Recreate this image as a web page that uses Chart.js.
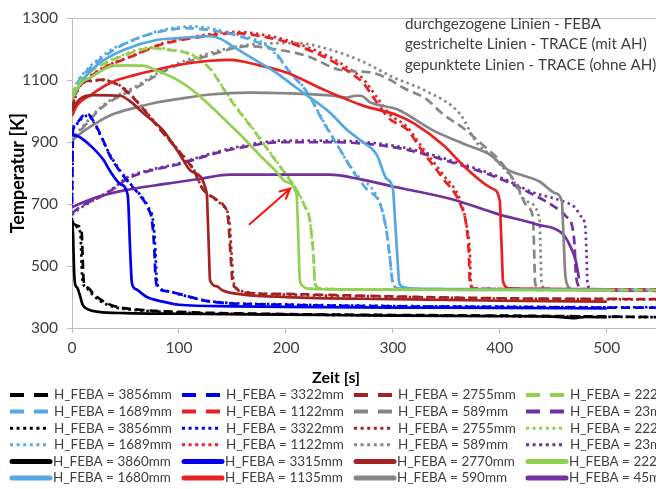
<!DOCTYPE html>
<html>
<head>
<meta charset="utf-8">
<script src="https://cdn.jsdelivr.net/npm/chart.js@4/dist/chart.umd.min.js"></script>
<style>
    html, body { margin: 0; padding: 0; background: #fff; overflow: hidden; }
</style>
</head>
<body>
<canvas id="chart" width="656" height="489"></canvas>
<script>
/**
 * Rod temperatures over time: FEBA measurement vs. TRACE (with / without AH)
 */

const traceHeights = [3856, 3322, 2755, 2222, 1689, 1122, 589, 23];
const febaHeights = [3860, 3315, 2770, 2225, 1680, 1135, 590, 45];
const lineColors = ['#000000', '#0000f0', '#a52222', '#92d050', '#56a8e2', '#e82222', '#868686', '#7030a0'];

const xTicks = [0, 100, 200, 300, 400, 500];
const yTicks = [300, 500, 700, 900, 1100, 1300];

const notes = [
    'durchgezogene Linien - FEBA',
    'gestrichelte Linien - TRACE (mit AH)',
    'gepunktete Linien - TRACE (ohne AH)'
];

// [time s, temperature K]
const mitAh3856 = [[0,640],[5,630],[9,610],[10,520],[11,450],[15,430],[20,410],[30,385],[40,370],[60,360],[100,352],[200,345],[300,342],[400,340],[500,337],[550,335]];
const mitAh3322 = [[0,700],[1,940],[5,965],[10,985],[15,990],[20,968],[28,915],[35,859],[45,805],[54,766],[63,730],[71,687],[75,640],[77,550],[78,470],[80,432],[90,418],[100,410],[130,385],[200,375],[300,370],[400,368],[500,366],[550,366]];
const mitAh2755 = [[0,1010],[5,1070],[10,1093],[20,1100],[29,1102],[40,1090],[47,1076],[64,1018],[82,942],[100,870],[113,814],[122,750],[135,715],[141,699],[146,650],[148,550],[150,450],[153,430],[157,418],[170,412],[200,410],[300,402],[400,396],[500,394],[550,393]];
const mitAh2222 = [[0,1050],[1,1060],[5,1085],[14,1118],[25,1145],[36,1162],[50,1182],[61,1195],[75,1204],[90,1198],[107,1188],[122,1160],[132,1124],[141,1075],[150,1028],[169,942],[191,837],[200,795],[210,745],[218,690],[222,655],[224,600],[226,520],[227,445],[230,430],[240,426],[300,424],[400,423],[500,422],[550,422]];
const mitAh1689 = [[0,1045],[5,1090],[10,1115],[26,1166],[40,1200],[57,1230],[80,1255],[107,1268],[129,1262],[145,1252],[157,1242],[182,1210],[188,1198],[204,1124],[220,1060],[235,965],[250,880],[263,805],[275,750],[288,700],[294,613],[297,530],[300,444],[305,428],[320,425],[400,424],[500,423],[550,423]];
const mitAh1122 = [[0,1000],[1,1038],[5,1070],[14,1102],[30,1140],[57,1178],[82,1214],[113,1236],[154,1252],[180,1240],[204,1220],[241,1166],[260,1124],[272,1092],[285,1028],[297,975],[313,942],[328,869],[347,782],[363,700],[369,623],[371,540],[372,440],[376,428],[400,426],[500,425],[550,425]];
const mitAh589 = [[0,905],[5,925],[15,965],[26,1006],[40,1040],[57,1070],[89,1134],[126,1178],[166,1210],[190,1200],[220,1178],[250,1134],[281,1124],[297,1102],[310,1075],[331,1040],[347,990],[366,945],[384,891],[400,840],[416,760],[426,690],[431,655],[432,560],[433,445],[437,428],[460,425],[500,424],[550,423]];
const mitAh23 = [[0,670],[5,685],[14,703],[30,730],[42,757],[51,780],[70,805],[98,827],[125,855],[151,878],[197,900],[241,900],[307,880],[353,837],[400,782],[431,731],[453,687],[462,660],[468,623],[470,560],[471,480],[473,440],[480,425],[500,422],[550,420]];

const ohneAh3856 = [[0,645],[5,625],[8,600],[9,500],[10,450],[15,425],[20,405],[30,380],[40,367],[60,358],[100,350],[200,344],[300,341],[400,339],[500,336],[550,335]];
const ohneAh3322 = [[0,690],[1,935],[5,960],[10,980],[15,986],[20,965],[28,912],[35,862],[45,808],[54,768],[63,733],[71,692],[76,640],[78,550],[79,470],[81,432],[90,419],[100,409],[130,386],[200,376],[300,371],[400,369],[500,367],[550,367]];
const ohneAh2755 = [[0,1005],[5,1065],[10,1090],[20,1098],[29,1100],[40,1092],[47,1078],[64,1020],[82,945],[100,872],[113,816],[122,752],[135,712],[141,695],[147,650],[149,550],[151,450],[154,428],[160,418],[200,408],[300,401],[400,395],[500,393],[550,392]];
const ohneAh2222 = [[0,1052],[5,1088],[14,1120],[25,1148],[36,1165],[50,1185],[61,1198],[75,1206],[90,1200],[107,1190],[122,1162],[132,1126],[141,1078],[150,1030],[169,945],[191,840],[200,798],[210,748],[218,692],[222,658],[224,600],[226,520],[227,445],[230,430],[240,426],[300,424],[400,423],[500,422],[550,422]];
const ohneAh1689 = [[0,1050],[5,1095],[10,1120],[26,1172],[40,1205],[51,1220],[80,1258],[113,1274],[129,1268],[145,1255],[157,1245],[182,1212],[204,1126],[220,1062],[235,968],[263,808],[288,702],[294,618],[297,535],[300,446],[305,428],[320,425],[400,424],[500,423],[550,423]];
const ohneAh1122 = [[0,1000],[1,1040],[5,1072],[14,1105],[30,1142],[57,1180],[82,1216],[113,1240],[154,1256],[180,1246],[204,1226],[241,1175],[260,1135],[272,1105],[285,1045],[297,990],[313,950],[328,880],[347,795],[363,712],[369,630],[372,540],[373,440],[377,428],[400,426],[500,425],[550,425]];
const ohneAh589 = [[0,905],[5,930],[15,970],[26,1010],[40,1045],[57,1075],[89,1140],[126,1185],[166,1215],[210,1220],[240,1200],[272,1160],[300,1110],[331,1065],[363,990],[378,900],[393,853],[410,790],[425,709],[437,655],[438,560],[439,445],[443,428],[470,425],[500,424],[550,423]];
const ohneAh23 = [[0,665],[5,680],[14,700],[30,732],[42,760],[51,785],[70,808],[98,830],[125,858],[151,882],[197,905],[241,905],[307,885],[353,842],[400,787],[431,738],[459,709],[470,690],[476,660],[480,623],[481,540],[482,440],[486,425],[500,422],[550,420]];

const feba3860 = [[0,655],[1,600],[2,480],[3,440],[5,430],[7,410],[10,375],[15,360],[25,352],[50,348],[100,346],[200,343],[300,340],[400,338],[450,337],[470,332],[480,336],[500,335]];
const feba3315 = [[0,923],[5,920],[10,910],[20,880],[30,840],[35,810],[45,765],[52,731],[53,680],[54,580],[55,500],[56,445],[60,425],[70,400],[85,385],[100,375],[150,370],[200,368],[300,366],[400,365],[500,363]];
const feba2770 = [[0,1000],[5,1030],[10,1045],[20,1052],[45,1050],[55,1030],[66,996],[75,970],[85,939],[100,865],[112,805],[126,735],[127,650],[128,550],[129,455],[135,435],[141,421],[160,408],[200,400],[300,393],[400,388],[500,385]];
const feba2225 = [[0,1040],[5,1075],[10,1095],[17,1108],[25,1125],[36,1145],[50,1148],[66,1147],[80,1130],[98,1102],[110,1075],[126,1028],[148,955],[160,915],[175,860],[191,805],[200,772],[210,731],[211,650],[212,550],[213,455],[216,435],[219,428],[240,425],[300,424],[400,423],[500,422]];
const feba1680 = [[0,1040],[10,1100],[26,1156],[50,1200],[79,1230],[100,1236],[129,1242],[140,1232],[150,1210],[170,1168],[191,1124],[210,1075],[225,1038],[241,996],[257,940],[270,905],[285,859],[294,782],[300,750],[302,650],[304,540],[306,445],[310,432],[316,428],[350,426],[400,425],[500,424]];
const feba1135 = [[0,985],[5,1020],[17,1051],[36,1092],[60,1118],[79,1134],[100,1150],[129,1163],[148,1166],[175,1148],[201,1124],[235,1070],[272,1018],[304,987],[320,960],[347,891],[369,814],[393,750],[400,709],[401,620],[402,530],[403,450],[409,428],[450,426],[500,425]];
const feba590 = [[0,905],[5,920],[15,945],[36,987],[60,1012],[79,1028],[100,1040],[129,1054],[166,1060],[200,1058],[241,1051],[257,1044],[265,1050],[270,1050],[279,1028],[304,1006],[337,939],[369,891],[391,859],[406,814],[437,773],[452,735],[458,709],[459,640],[460,560],[461,480],[463,440],[468,425],[500,422]];
const feba45 = [[0,690],[10,705],[26,725],[50,745],[89,766],[120,782],[148,795],[200,795],[241,795],[270,780],[300,757],[356,715],[399,667],[434,635],[459,603],[465,570],[471,517],[474,460]];

const mitAh = [mitAh3856, mitAh3322, mitAh2755, mitAh2222, mitAh1689, mitAh1122, mitAh589, mitAh23];
const ohneAh = [ohneAh3856, ohneAh3322, ohneAh2755, ohneAh2222, ohneAh1689, ohneAh1122, ohneAh589, ohneAh23];
const feba = [feba3860, feba3315, feba2770, feba2225, feba1680, feba1135, feba590, feba45];

// arrow pointing at the FEBA 2225mm curve, [time, temperature]
const arrowFrom = [166, 635];
const arrowTo = [204, 750];

const FONT = 'Lato, "Liberation Sans", sans-serif';
const TEXT_COLOR = '#404040';
const AXIS_COLOR = '#bcbcbc';

/**
 * One line dataset
 */
function series(height, points, color, kind)
{
    return {
        label: 'H_FEBA = ' + height + 'mm',
        kind: kind,
        data: points.map(function (p) { return {x: p[0], y: p[1]}; }),
        borderColor: color,
        backgroundColor: color,
        borderWidth: 2.7,
        borderDash: kind === 'dash' ? [9, 5] : (kind === 'dot' ? [2.5, 3.5] : []),
        pointRadius: 0,
        fill: false,
        cubicInterpolationMode: 'monotone',
        order: kind === 'solid' ? 0 : (kind === 'dash' ? 1 : 2)
    };
}

let datasets = [];
mitAh.forEach(function (pts, i) { datasets.push(series(traceHeights[i], pts, lineColors[i], 'dash')); });
ohneAh.forEach(function (pts, i) { datasets.push(series(traceHeights[i], pts, lineColors[i], 'dot')); });
feba.forEach(function (pts, i) { datasets.push(series(febaHeights[i], pts, lineColors[i], 'solid')); });

/**
 * Legend in a 4 column grid, notes, x title and the arrow
 */
const extras = {
    id: 'extras',
    afterDraw(chart) {
        const ctx = chart.ctx;
        const xs = chart.scales.x;
        const ys = chart.scales.y;

        ctx.save();

        // notes top right
        ctx.font = '15.2px ' + FONT;
        ctx.fillStyle = TEXT_COLOR;
        ctx.textBaseline = 'middle';
        ctx.textAlign = 'left';
        notes.forEach(function (t, i) {
            ctx.fillText(t, 405, 24 + i * 20.5);
        });

        // x axis title
        ctx.font = 'bold 16px ' + FONT;
        ctx.fillStyle = '#000';
        ctx.textAlign = 'center';
        ctx.fillText('Zeit [s]', 336, 378);

        // arrow
        const x0 = xs.getPixelForValue(arrowFrom[0]), y0 = ys.getPixelForValue(arrowFrom[1]);
        const x1 = xs.getPixelForValue(arrowTo[0]), y1 = ys.getPixelForValue(arrowTo[1]);
        const a = Math.atan2(y1 - y0, x1 - x0);
        ctx.strokeStyle = '#ff1010';
        ctx.lineWidth = 2;
        ctx.lineCap = 'round';
        ctx.beginPath();
        ctx.moveTo(x0, y0);
        ctx.lineTo(x1, y1);
        ctx.moveTo(x1 - 11 * Math.cos(a - 0.45), y1 - 11 * Math.sin(a - 0.45));
        ctx.lineTo(x1, y1);
        ctx.lineTo(x1 - 11 * Math.cos(a + 0.45), y1 - 11 * Math.sin(a + 0.45));
        ctx.stroke();

        // legend
        ctx.font = '13.5px ' + FONT;
        ctx.textAlign = 'left';
        chart.data.datasets.forEach(function (ds, i) {
            const col = i % 4;
            const row = Math.floor(i / 4);
            const x = 10 + col * 172;
            const y = 395 + row * 16.6;

            ctx.strokeStyle = ds.borderColor;
            ctx.beginPath();
            if (ds.kind === 'dash') {
                ctx.lineWidth = 4;
                ctx.lineCap = 'butt';
                ctx.setLineDash([14, 10]);
                ctx.moveTo(x, y);
                ctx.lineTo(x + 38, y);
            } else if (ds.kind === 'dot') {
                ctx.lineWidth = 3;
                ctx.lineCap = 'butt';
                ctx.setLineDash([3, 3.6]);
                ctx.moveTo(x, y);
                ctx.lineTo(x + 38, y);
            } else {
                ctx.lineWidth = 5;
                ctx.lineCap = 'round';
                ctx.setLineDash([]);
                ctx.moveTo(x + 2, y);
                ctx.lineTo(x + 40, y);
            }
            ctx.stroke();
            ctx.setLineDash([]);

            ctx.fillStyle = TEXT_COLOR;
            ctx.fillText(ds.label, x + (ds.kind === 'solid' ? 43 : 44), y);
        });

        ctx.restore();
    }
};

new Chart(document.getElementById('chart'), {
    type: 'line',
    data: {datasets: datasets},
    options: {
        responsive: false,
        animation: false,
        layout: {padding: {top: 15, right: 0, left: 0, bottom: 0}},
        plugins: {
            legend: {display: false},
            tooltip: {enabled: false}
        },
        scales: {
            x: {
                type: 'linear',
                min: 0,
                max: 546,
                afterBuildTicks: function (scale) {
                    scale.ticks = xTicks.map(function (v) { return {value: v}; });
                },
                afterFit: function (scale) { scale.height = 161; },
                ticks: {
                    includeBounds: false,
                    color: TEXT_COLOR,
                    padding: 6,
                    font: {family: FONT, size: 15.5},
                    maxRotation: 0,
                    callback: function (v) { return String(v); }
                },
                grid: {
                    drawOnChartArea: false,
                    tickLength: 5,
                    tickColor: AXIS_COLOR
                },
                border: {color: AXIS_COLOR, width: 1}
            },
            y: {
                min: 300,
                max: 1300,
                afterBuildTicks: function (scale) {
                    scale.ticks = yTicks.map(function (v) { return {value: v}; });
                },
                afterFit: function (scale) { scale.width = 72; },
                ticks: {
                    color: TEXT_COLOR,
                    padding: 9,
                    font: {family: FONT, size: 15.5},
                    callback: function (v) { return String(v); }
                },
                grid: {
                    color: function (c) { return c.tick && c.tick.value === 1300 ? AXIS_COLOR : 'rgba(0,0,0,0)'; },
                    tickLength: 5,
                    tickColor: AXIS_COLOR
                },
                border: {color: AXIS_COLOR, width: 1},
                title: {
                    display: true,
                    text: 'Temperatur [K]',
                    color: '#000',
                    padding: {top: 7, bottom: 0},
                    font: {family: FONT, size: 18, weight: 'bold'}
                }
            }
        }
    },
    plugins: [extras]
});
</script>
</body>
</html>
